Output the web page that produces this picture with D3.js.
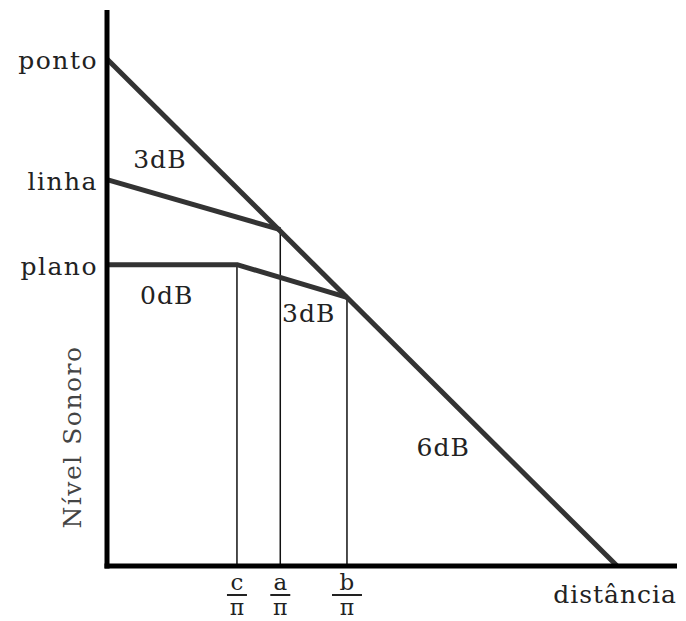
<!DOCTYPE html>
<html>
<head>
<meta charset="utf-8">
<script src="https://cdn.jsdelivr.net/npm/d3@7"></script>
<style>
  body { margin: 0; background: #fff; }
  text { font-family: "DejaVu Serif", serif; fill: #222; }
</style>
</head>
<body>
<svg id="chart" width="686" height="621"></svg>
<script>
// ************************************
// Data (conceptual units, 0..100 on both axes)
// ************************************
const sourceNames = ["ponto", "linha", "plano"];
const sourceLevels = [91.2, 69.5, 54.2];   // level at distance 0

// break points: c, a, b
const breakNames = ["c", "a", "b"];
const breakDist = [22.8, 30.4, 42.1];
const breakTop = [54.2, 60.5, 48.3];        // where each drop line starts

// level lines in data units
const pontoLine = [[0, 91.2], [89.5, 0]];
const linhaLine = [[0, 69.5], [30.4, 60.5]];
const planoLine = [[0, 54.2], [22.8, 54.2], [42.1, 48.3]];

const slopeLabels = ["3dB", "0dB", "3dB", "6dB"];
const slopeLabelPos = [[4.6, 71.5], [5.8, 47.2], [30.7, 43.9], [54.3, 19.8]];

const svg = d3.select("#chart");

const x = d3.scaleLinear().domain([0, 100]).range([107, 677]);
const y = d3.scaleLinear().domain([0, 100]).range([566, 10]);

const line = d3.line().x(d => x(d[0])).y(d => y(d[1]));

// vertical drop lines
svg.selectAll(".drop")
    .data(breakDist)
    .enter()
    .append("line")
    .attr("class", "drop")
    .attr("x1", d => x(d)).attr("x2", d => x(d))
    .attr("y1", y(0))
    .attr("y2", (d, i) => y(breakTop[i]))
    .attr("stroke", "#111")
    .attr("stroke-width", 1.5);

// level lines
[pontoLine, linhaLine, planoLine].forEach(pts => {
    svg.append("path")
        .attr("d", line(pts))
        .attr("fill", "none")
        .attr("stroke", "#333")
        .attr("stroke-width", 5)
        .attr("stroke-linejoin", "round");
});

// axes
svg.append("line")
    .attr("x1", x(0)).attr("x2", x(0))
    .attr("y1", y(100)).attr("y2", y(0) + 2.5)
    .attr("stroke", "#000").attr("stroke-width", 5);
svg.append("line")
    .attr("x1", x(0) - 2.5).attr("x2", x(100))
    .attr("y1", y(0)).attr("y2", y(0))
    .attr("stroke", "#000").attr("stroke-width", 5);

// source labels on the y axis
svg.selectAll(".src")
    .data(sourceNames)
    .enter()
    .append("text")
    .attr("class", "src")
    .attr("x", x(0) - 9)
    .attr("y", (d, i) => y(sourceLevels[i]) + 10)
    .attr("text-anchor", "end")
    .style("font-size", "25px")
    .style("letter-spacing", "1.5px")
    .text(d => d);

// slope labels
svg.selectAll(".slope")
    .data(slopeLabels)
    .enter()
    .append("text")
    .attr("class", "slope")
    .attr("x", (d, i) => x(slopeLabelPos[i][0]))
    .attr("y", (d, i) => y(slopeLabelPos[i][1]))
    .style("font-size", "25px")
    .style("letter-spacing", "1px")
    .text(d => d);

// fraction tick labels  letter / pi
const frac = svg.selectAll(".frac")
    .data(breakNames)
    .enter()
    .append("g")
    .attr("class", "frac")
    .attr("transform", (d, i) => `translate(${x(breakDist[i])},0)`);

frac.append("text")
    .attr("y", 590)
    .attr("text-anchor", "middle")
    .style("font-size", "23px")
    .text(d => d);
frac.append("line")
    .attr("x1", (d, i) => i === 2 ? -15 : -10)
    .attr("x2", (d, i) => i === 2 ? 15 : 10)
    .attr("y1", 595).attr("y2", 595)
    .attr("stroke", "#222").attr("stroke-width", 2);
frac.append("text")
    .attr("y", 615)
    .attr("text-anchor", "middle")
    .style("font-size", "22px")
    .text("π");

// axis titles
svg.append("text")
    .attr("x", x(100))
    .attr("y", 603)
    .attr("text-anchor", "end")
    .style("font-size", "25px")
    .style("letter-spacing", "1px")
    .text("distância");

svg.append("text")
    .attr("transform", `translate(81,437) rotate(-90)`)
    .attr("text-anchor", "middle")
    .style("font-size", "25px")
    .style("letter-spacing", "1.5px")
    .style("fill", "#444")
    .text("Nível Sonoro");
</script>
</body>
</html>
